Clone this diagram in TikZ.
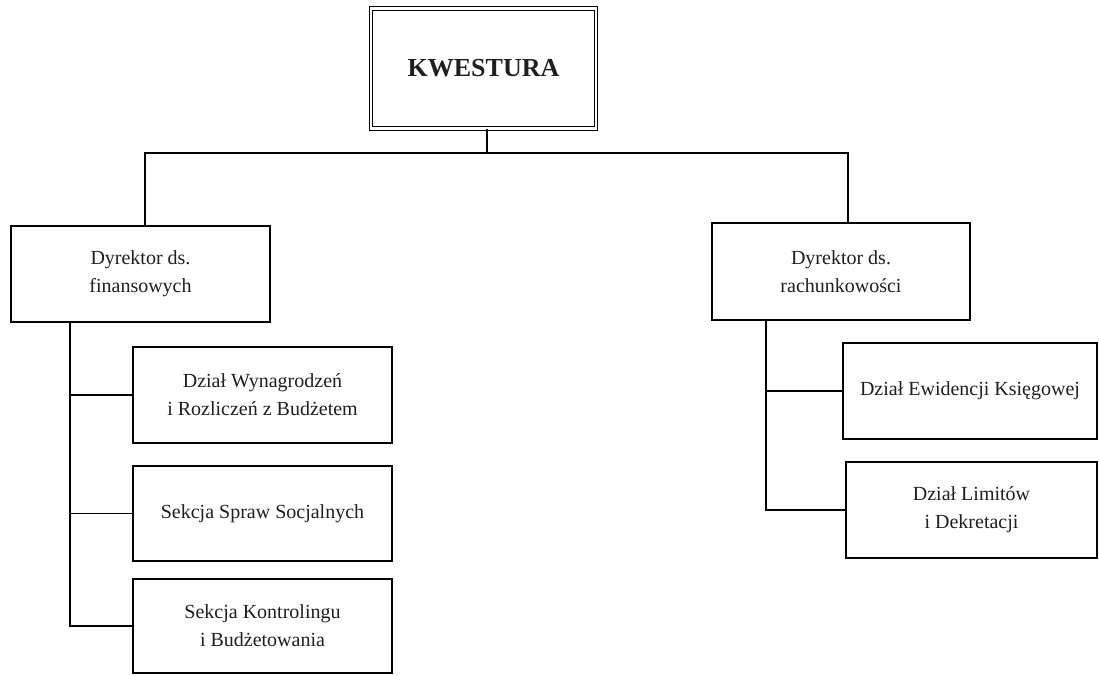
\documentclass[tikz,border=0pt]{standalone}
\usepackage{fontspec}
\setmainfont{Liberation Serif}
\begin{document}
\begin{tikzpicture}[x=1pt,y=-1pt,
  box/.style={draw=black, line width=1.6pt, inner sep=0pt, align=center,
    font=\fontsize{20}{28}\selectfont, text=black!88},
  conn/.style={draw=black, line width=1.5pt}]
\useasboundingbox (0,0) rectangle (1099,675);
\fill[white] (0,0) rectangle (1099,675);
% top box
\node[draw=black, double=white, double distance=2.2pt, line width=1.1pt,
  minimum width=225pt, minimum height=120pt, inner sep=0pt,
  font=\fontsize{26}{30}\selectfont\bfseries, text=black!88] (kw) at (483.5,68.5) {KWESTURA};
% directors
\node[box, minimum width=259pt, minimum height=96pt] (dfin) at (140.5,274) {Dyrektor ds.\\finansowych};
\node[box, minimum width=258pt, minimum height=97pt] (drach) at (841,271.5) {Dyrektor ds.\\rachunkowości};
% left departments
\node[box, minimum width=259pt, minimum height=96pt] (d1) at (262.5,395) {Dział Wynagrodzeń\\i Rozliczeń z Budżetem};
\node[box, minimum width=259pt, minimum height=95pt] (d2) at (262.5,513.5) {Sekcja Spraw Socjalnych};
\node[box, minimum width=259pt, minimum height=94pt] (d3) at (262.5,626) {Sekcja Kontrolingu\\i Budżetowania};
% right departments
\node[box, minimum width=254pt, minimum height=96pt] (r1) at (970,391) {Dział Ewidencji Księgowej};
\node[box, minimum width=251pt, minimum height=96pt] (r2) at (971.5,510) {Dział Limitów\\i Dekretacji};
% connectors
\coordinate (busL) at (145,153);
\coordinate (busR) at (848,153);
\coordinate (sL) at (70,0);
\coordinate (sR) at (766,0);
\draw[conn] ([xshift=3.5pt]kw.south) -- ([xshift=3.5pt]kw.south |- busL);
\draw[conn] (dfin.north -| busL) -- (busL) -- (busR) -- (busR |- drach.north);
\draw[conn] (sL |- dfin.south) -- (sL |- d3.west) -- (d3.west);
\draw[conn] (sL |- d1.west) -- (d1.west);
\draw[conn] (sL |- d2.west) -- (d2.west);
\draw[conn] (sR |- drach.south) -- (sR |- r2.west) -- (r2.west);
\draw[conn] (sR |- r1.west) -- (r1.west);
\end{tikzpicture}
\end{document}
